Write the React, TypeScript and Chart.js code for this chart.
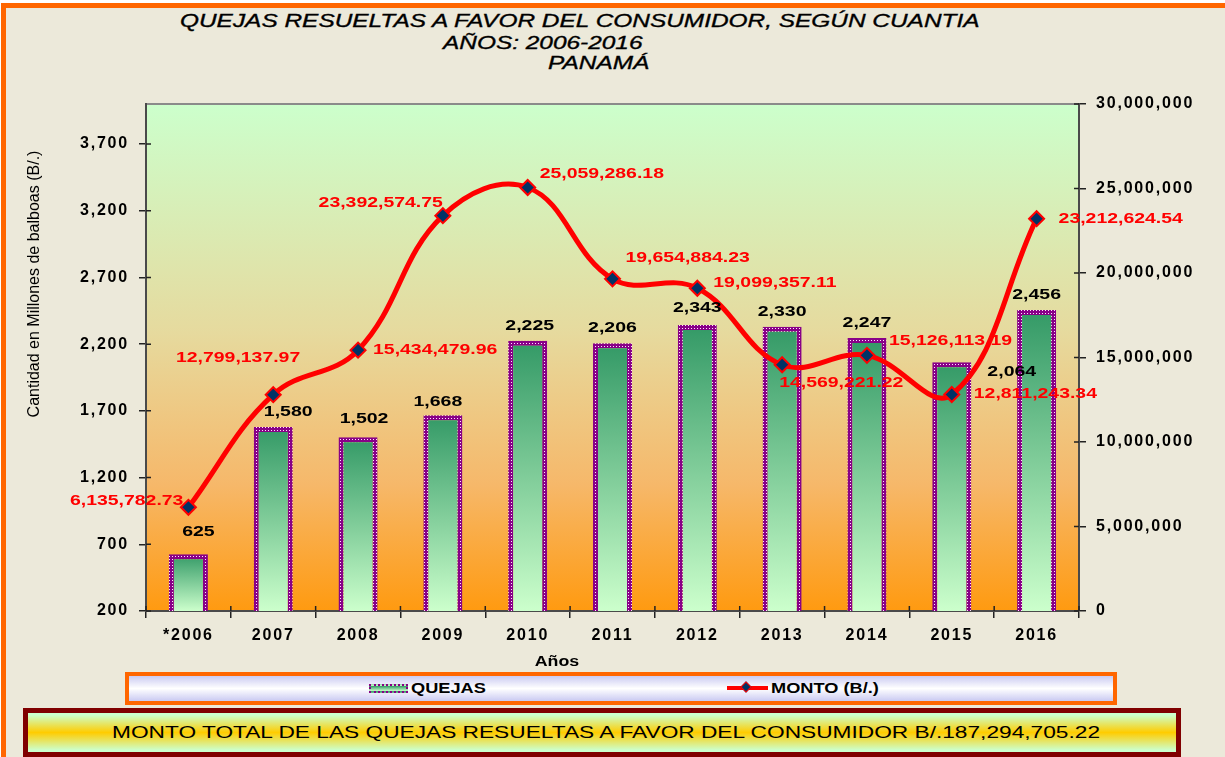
import React, { useEffect, useRef } from 'react';
import { Chart, registerables } from 'chart.js';

Chart.register(...registerables);

// ---------- data ----------
const years = ['*2006', '2007', '2008', '2009', '2010', '2011', '2012', '2013', '2014', '2015', '2016'];
const quejas = [625, 1580, 1502, 1668, 2225, 2206, 2343, 2330, 2247, 2064, 2456];
const monto = [
  6135782.73, 12799137.97, 15434479.96, 23392574.75, 25059286.18, 19654884.23,
  19099357.11, 14569221.22, 15126113.19, 12811243.34, 23212624.54,
];
const leftTickValues = [200, 700, 1200, 1700, 2200, 2700, 3200, 3700];
const rightTickValues = [0, 5000000, 10000000, 15000000, 20000000, 25000000, 30000000];
const totalText = 'MONTO TOTAL DE LAS QUEJAS RESUELTAS A FAVOR DEL CONSUMIDOR B/.187,294,705.22';

// ---------- label placement (layout only) ----------
const barLabelShift: [number, number][] = [
  [10, -7], [15, 0], [6, -3], [-5, 2], [2, 0], [0, 0], [0, -2], [0, 0], [0, 0], [60, 25], [0, 0],
];
const montoLabelPlace: [CanvasTextAlign, number, number][] = [
  ['right', -5, -6], ['right', 27, -37], ['left', 15, 0], ['right', 0, -13], ['left', 12, -13],
  ['left', 13, -21], ['left', 16, -5], ['left', -3, 18], ['left', 22, -14], ['left', 22, 0], ['left', 22, 0],
];

const FONT = 'Arial, "Liberation Sans", Helvetica, sans-serif';

function drawStretched(
  ctx: CanvasRenderingContext2D, text: string, x: number, y: number,
  align: CanvasTextAlign, font: string, color: string, sx: number,
) {
  ctx.save();
  ctx.translate(x, y);
  ctx.scale(sx, 1);
  ctx.font = font;
  ctx.fillStyle = color;
  ctx.textAlign = align;
  ctx.textBaseline = 'middle';
  ctx.fillText(text, 0, 0);
  ctx.restore();
}

const decorPlugin = {
  id: 'decor',
  beforeDraw(chart: any) {
    const { ctx, chartArea: a } = chart;
    ctx.save();
    const g = ctx.createLinearGradient(0, a.top, 0, a.bottom);
    g.addColorStop(0, '#CCFFCC');
    g.addColorStop(0.45, '#E6DA9E');
    g.addColorStop(0.75, '#F6B86A');
    g.addColorStop(1, '#FF9A10');
    ctx.fillStyle = g;
    ctx.fillRect(a.left, a.top, a.right - a.left, a.bottom - a.top);
    ctx.strokeStyle = '#8a8a8a';
    ctx.lineWidth = 2;
    ctx.beginPath();
    ctx.moveTo(a.left, a.top);
    ctx.lineTo(a.right, a.top);
    ctx.stroke();
    ctx.restore();
    ctx.letterSpacing = '1.8px';
  },
  afterDatasetsDraw(chart: any) {
    const { ctx, chartArea: a } = chart;
    const xs = chart.scales.x;
    const ys = chart.scales.y;
    const y1 = chart.scales.y1;
    ctx.save();
    ctx.letterSpacing = '0px';
    // inward tick parts
    ctx.strokeStyle = '#222';
    ctx.lineWidth = 1.5;
    ctx.beginPath();
    ys.ticks.forEach((_t: any, i: number) => {
      const py = ys.getPixelForTick(i);
      ctx.moveTo(a.left, py);
      ctx.lineTo(a.left + 5, py);
    });
    y1.ticks.forEach((_t: any, i: number) => {
      const py = y1.getPixelForTick(i);
      ctx.moveTo(a.right, py);
      ctx.lineTo(a.right - 5, py);
    });
    const step = xs.getPixelForValue(1) - xs.getPixelForValue(0);
    for (let i = 0; i <= years.length; i++) {
      const px = xs.getPixelForValue(0) - step / 2 + i * step;
      ctx.moveTo(px, a.bottom);
      ctx.lineTo(px, a.bottom - 5);
    }
    ctx.stroke();

    // bar labels
    quejas.forEach((v, i) => {
      const cx = xs.getPixelForValue(i) + barLabelShift[i][0];
      const cy = ys.getPixelForValue(v) - 15 + barLabelShift[i][1];
      drawStretched(ctx, v.toLocaleString('en-US'), cx, cy, 'center', `bold 15px ${FONT}`, '#000', 1.3);
    });
    // monto labels
    monto.forEach((v, i) => {
      const [align, dx, dy] = montoLabelPlace[i];
      const px = xs.getPixelForValue(i) + dx;
      const py = y1.getPixelForValue(v) + dy;
      const txt = v.toLocaleString('en-US', { minimumFractionDigits: 2, maximumFractionDigits: 2 });
      drawStretched(ctx, txt, px, py, align, `bold 14.5px ${FONT}`, '#FF0000', 1.34);
    });

    // axis titles
    ctx.save();
    ctx.translate(35, 284);
    ctx.rotate(-Math.PI / 2);
    ctx.font = `16px ${FONT}`;
    ctx.fillStyle = '#000';
    ctx.textAlign = 'center';
    ctx.textBaseline = 'middle';
    ctx.fillText('Cantidad en Millones de balboas (B/.)', 0, 0);
    ctx.restore();
    drawStretched(ctx, 'Años', 557, 662, 'center', `bold 14px ${FONT}`, '#000', 1.27);
    ctx.restore();
  },
};

export default function App() {
  const canvasRef = useRef<HTMLCanvasElement | null>(null);

  useEffect(() => {
    const canvas = canvasRef.current;
    if (!canvas) return;
    const ctx = canvas.getContext('2d')!;

    const pc = document.createElement('canvas');
    pc.width = 3;
    pc.height = 3;
    const p = pc.getContext('2d')!;
    p.fillStyle = '#880088';
    p.fillRect(0, 0, 3, 3);
    p.fillStyle = '#FFE6FF';
    p.fillRect(1, 1, 1, 1);
    const pattern = ctx.createPattern(pc, 'repeat');

    const tickFont = { family: FONT, size: 16, weight: 'bold' as const };

    const chart = new Chart(ctx, {
      type: 'bar',
      data: {
        labels: years,
        datasets: [
          {
            type: 'line',
            label: 'MONTO (B/.)',
            data: monto,
            yAxisID: 'y1',
            borderColor: '#FF0000',
            borderWidth: 5,
            tension: 0.4,
            fill: false,
            pointStyle: 'rectRot',
            pointRadius: 7.5,
            pointBackgroundColor: '#003366',
            pointBorderColor: '#FF0000',
            pointBorderWidth: 2,
            order: 1,
          } as any,
          {
            type: 'bar',
            label: 'QUEJAS',
            data: quejas,
            yAxisID: 'y',
            backgroundColor: (c: any) => {
              const ch = c.chart;
              const area = ch.chartArea;
              if (!area || c.type !== 'data' || !ch.scales.y) return '#339966';
              const top = ch.scales.y.getPixelForValue(c.raw);
              const g = ch.ctx.createLinearGradient(0, top, 0, area.bottom);
              g.addColorStop(0, '#339966');
              g.addColorStop(1, '#CCFFCC');
              return g;
            },
            borderColor: pattern as any,
            borderWidth: 5,
            borderSkipped: false,
            barPercentage: 0.46,
            categoryPercentage: 1,
            order: 2,
          } as any,
        ],
      },
      options: {
        responsive: false,
        animation: false,
        devicePixelRatio: 1,
        layout: { padding: { top: 104, left: 0, right: 0, bottom: 0 } },
        plugins: { legend: { display: false }, tooltip: { enabled: false } },
        events: [],
        scales: {
          x: {
            offset: true,
            grid: { offset: true, drawOnChartArea: false, drawTicks: true, tickLength: 7, color: '#222', lineWidth: 1.5 },
            border: { display: true, color: '#4a4a4a', width: 2 },
            ticks: { font: tickFont, color: '#000', padding: 8, autoSkip: false, maxRotation: 0 },
            afterFit: (s: any) => { s.height = 146; },
          },
          y: {
            position: 'left',
            min: 200,
            max: 4000,
            afterBuildTicks: (s: any) => { s.ticks = leftTickValues.map((v) => ({ value: v })); },
            grid: { drawOnChartArea: false, drawTicks: true, tickLength: 7, color: '#222', lineWidth: 1.5 },
            border: { display: true, color: '#4a4a4a', width: 2 },
            ticks: { font: tickFont, color: '#000', padding: 10, callback: (v: any) => Number(v).toLocaleString('en-US') },
            afterFit: (s: any) => { s.width = 146; },
          },
          y1: {
            position: 'right',
            min: 0,
            max: 30000000,
            afterBuildTicks: (s: any) => { s.ticks = rightTickValues.map((v) => ({ value: v })); },
            grid: { drawOnChartArea: false, drawTicks: true, tickLength: 7, color: '#222', lineWidth: 1.5 },
            border: { display: true, color: '#4a4a4a', width: 2 },
            ticks: { font: tickFont, color: '#000', padding: 10, callback: (v: any) => Number(v).toLocaleString('en-US') },
            afterFit: (s: any) => { s.width = 146; },
          },
        },
      } as any,
      plugins: [decorPlugin],
    });
    return () => chart.destroy();
  }, []);

  const titleStyle = (left: number, top: number): React.CSSProperties => ({
    position: 'absolute',
    left,
    top,
    font: `italic 19px ${FONT}`,
    lineHeight: '19px',
    color: '#000',
    whiteSpace: 'nowrap',
    transform: 'scaleX(1.285)',
    transformOrigin: 'left center',
    WebkitTextStroke: '0.35px #000',
  });

  return (
    <div style={{ position: 'fixed', left: 0, top: 0, width: 1225, height: 757, overflow: 'hidden', background: '#FFFFFF' }}>
      <div
        style={{
          position: 'absolute', left: 1, top: 3, width: 1300, height: 800,
          borderLeft: '5px solid #FF6600', borderTop: '5px solid #FF6600', background: '#ECE9DA',
        }}
      />
      <div style={titleStyle(180, 11)}>QUEJAS RESUELTAS A FAVOR DEL CONSUMIDOR, SEGÚN CUANTIA</div>
      <div style={titleStyle(443, 33)}>AÑOS: 2006-2016</div>
      <div style={titleStyle(548, 53)}>PANAMÁ</div>

      <canvas ref={canvasRef} width={1225} height={757} style={{ position: 'absolute', left: 0, top: 0, width: 1225, height: 757 }} />

      {/* legend */}
      <div
        style={{
          position: 'absolute', left: 125, top: 672, width: 992, height: 33, boxSizing: 'border-box',
          border: '4px solid #FF6600', background: 'linear-gradient(#CACAF2, #FFFFFF 50%, #CACAF2)',
        }}
      />
      <div
        style={{
          position: 'absolute', left: 369, top: 684, width: 39, height: 9, boxSizing: 'border-box',
          border: '2px dotted #880088', background: 'linear-gradient(#339966, #CCFFCC)',
        }}
      />
      <div style={{ position: 'absolute', left: 411, top: 681, font: `bold 14px ${FONT}`, lineHeight: '14px', whiteSpace: 'nowrap', transform: 'scaleX(1.3)', transformOrigin: 'left center' }}>QUEJAS</div>
      <div style={{ position: 'absolute', left: 727, top: 686, width: 41, height: 4, background: '#FF0000' }} />
      <div
        style={{
          position: 'absolute', left: 742, top: 683, width: 8, height: 8, boxSizing: 'border-box',
          background: '#003366', border: '1.5px solid #FF0000', transform: 'rotate(45deg)',
        }}
      />
      <div style={{ position: 'absolute', left: 771, top: 681, font: `bold 14px ${FONT}`, lineHeight: '14px', whiteSpace: 'nowrap', transform: 'scaleX(1.3)', transformOrigin: 'left center' }}>MONTO (B/.)</div>

      {/* total box */}
      <div
        style={{
          position: 'absolute', left: 23, top: 708, width: 1158, height: 49, boxSizing: 'border-box',
          border: '5px solid #800000', background: 'linear-gradient(#CCFFCC 5%, #FFCC00 50%, #CCFFCC 95%)',
        }}
      />
      <div style={{ position: 'absolute', left: 112, top: 724, font: `17px ${FONT}`, lineHeight: '17px', color: '#000', whiteSpace: 'nowrap', transform: 'scaleX(1.335)', transformOrigin: 'left center' }}>{totalText}</div>
    </div>
  );
}
